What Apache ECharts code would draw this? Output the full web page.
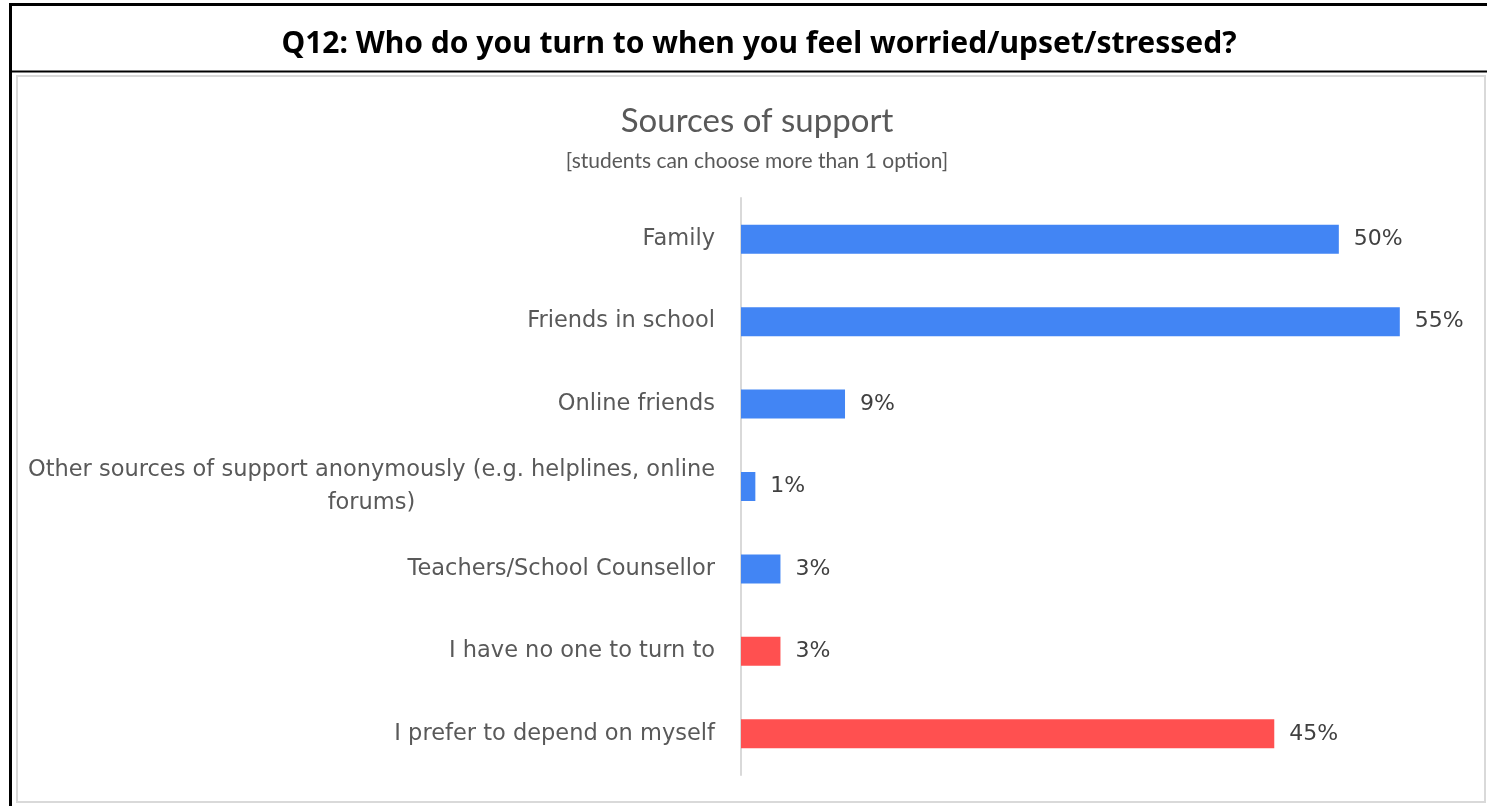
<!DOCTYPE html>
<html>
<head>
<meta charset="utf-8">
<script src="https://cdn.jsdelivr.net/npm/echarts@6/dist/echarts.min.js"></script>
<style>
  html, body { margin: 0; padding: 0; background: #fff; }
  #chart { width: 1487px; height: 806px; }
</style>
</head>
<body>
<div id="chart"></div>
<script>
// categories, top to bottom
var categories = [
    'Family',
    'Friends in school',
    'Online friends',
    'Other sources of support anonymously (e.g. helplines, online\nforums)',
    'Teachers/School Counsellor',
    'I have no one to turn to',
    'I prefer to depend on myself'
];
// percent of students
var percents = [50, 55.1, 8.7, 1.2, 3.3, 3.3, 44.6];

var header = 'Q12: Who do you turn to when you feel worried/upset/stressed?';
var chartTitle = 'Sources of support';
var chartSubtitle = '[students can choose more than 1 option]';

var myChart = echarts.init(document.getElementById('chart'));

var option = {
    backgroundColor: '#fff',
    animation: false,
    title: [
        {
            text: header,
            left: 754, top: 24, textAlign: 'center',
            textStyle: { fontFamily: 'Noto Sans', fontWeight: 'bold', fontSize: 30, color: '#000' }
        },
        {
            text: chartTitle,
            left: 752, top: 100, textAlign: 'center',
            textStyle: { fontFamily: 'Lato', fontWeight: 'normal', fontSize: 33, color: '#595959' }
        },
        {
            text: chartSubtitle,
            left: 752, top: 146, textAlign: 'center',
            textStyle: { fontFamily: 'Lato', fontWeight: 'normal', fontSize: 21, color: '#595959' }
        }
    ],
    graphic: [
        // outer black frame
        { type: 'line', shape: { x1: 10.5, y1: 4, x2: 10.5, y2: 806 }, style: { stroke: '#000', lineWidth: 3 } },
        { type: 'line', shape: { x1: 9, y1: 4.5, x2: 1487, y2: 4.5 }, style: { stroke: '#000', lineWidth: 3 } },
        { type: 'line', shape: { x1: 9, y1: 71.5, x2: 1487, y2: 71.5 }, style: { stroke: '#000', lineWidth: 2 } },
        // chart area border
        { type: 'rect', shape: { x: 17, y: 76, width: 1468, height: 726 }, style: { fill: 'none', stroke: '#d9d9d9', lineWidth: 2 } }
    ],
    grid: { left: 741, right: 28.6, top: 198, bottom: 31, containLabel: false },
    xAxis: {
        type: 'value', min: 0, max: 60,
        axisLine: { show: false }, axisTick: { show: false },
        axisLabel: { show: false }, splitLine: { show: false }
    },
    yAxis: {
        type: 'category', inverse: true, data: categories,
        axisLine: { show: true, lineStyle: { color: '#d9d9d9', width: 2 } },
        axisTick: { show: false },
        axisLabel: {
            margin: 26,
            fontFamily: 'DejaVu Sans', fontSize: 22.5, color: '#595959', lineHeight: 33,
            formatter: function (v) {
                return v.split('\n').map(function (s) { return '{c|' + s + '}'; }).join('\n');
            },
            rich: { c: { align: 'center', fontFamily: 'DejaVu Sans', fontSize: 22.5, color: '#595959', lineHeight: 33 } }
        }
    },
    series: [{
        type: 'bar',
        data: percents,
        barWidth: 29,
        itemStyle: {
            color: function (p) { return p.dataIndex >= 5 ? '#ff5050' : '#4285f4'; }
        },
        label: {
            show: true, position: 'right', distance: 15,
            fontFamily: 'DejaVu Sans', fontSize: 22, color: '#404040',
            formatter: function (p) { return Math.round(p.value) + '%'; }
        }
    }]
};

myChart.setOption(option);
</script>
</body>
</html>
